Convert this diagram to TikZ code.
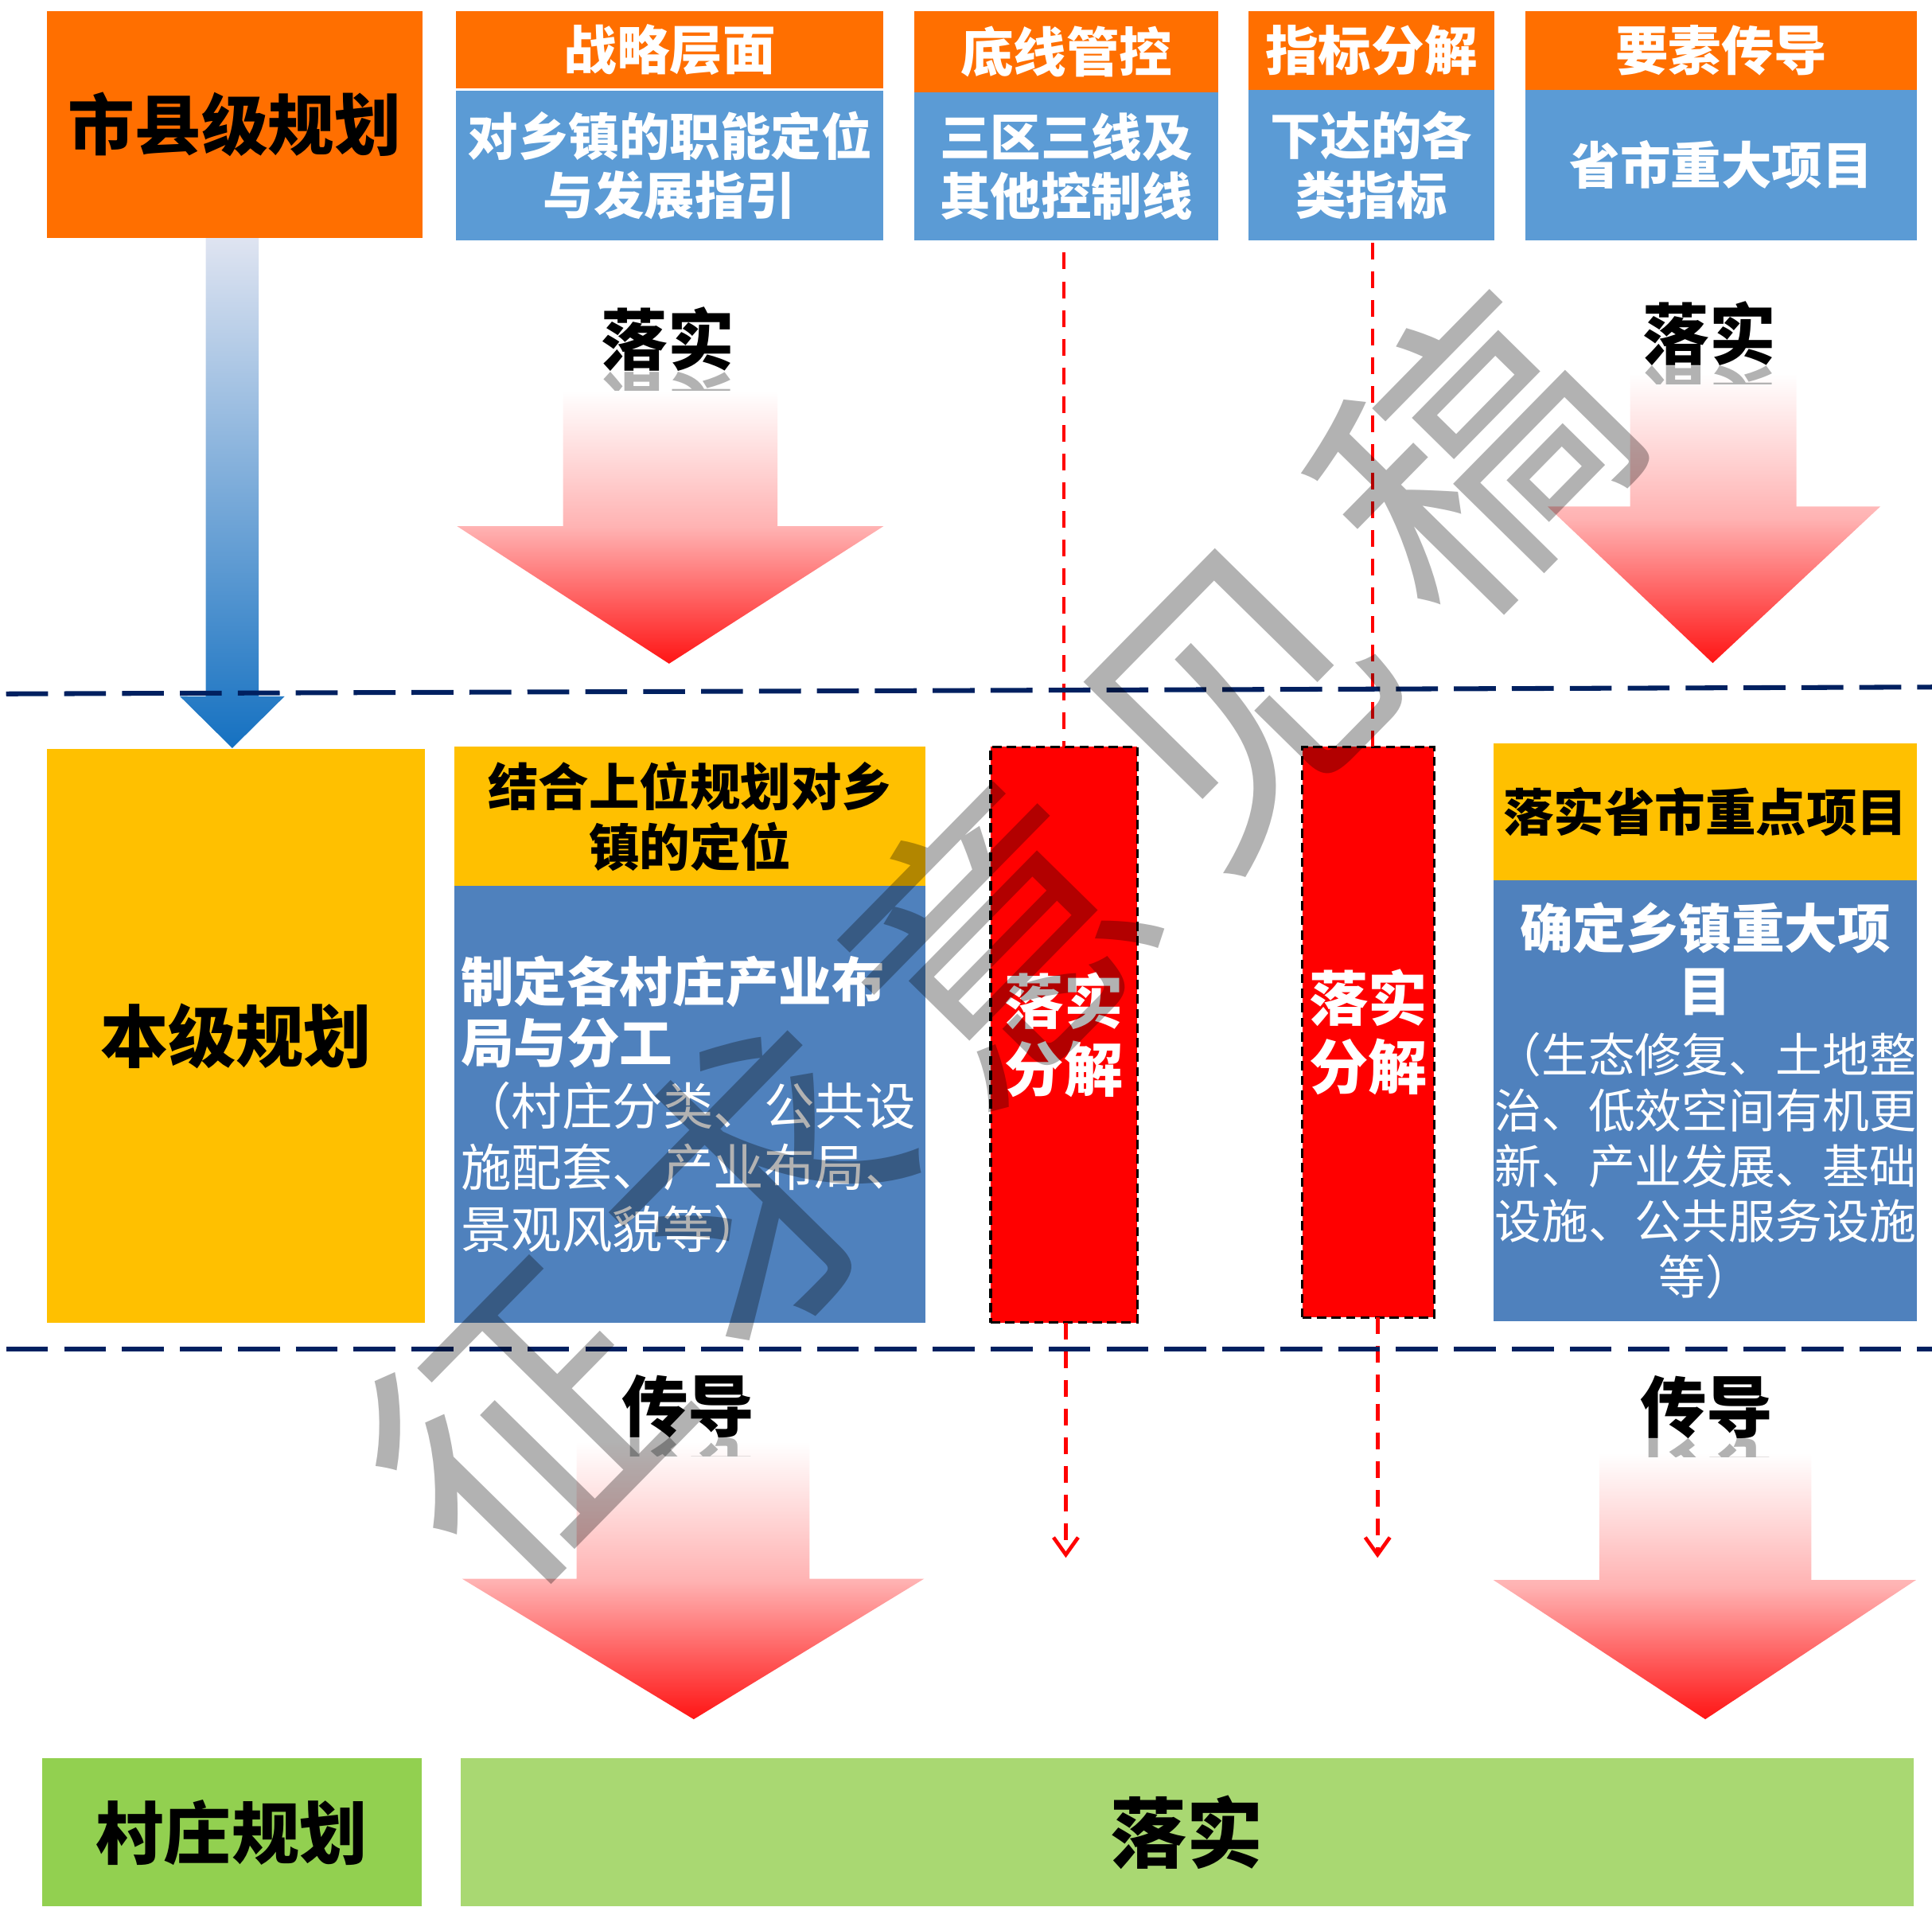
\documentclass[tikz,border=0pt]{standalone}
\usepackage{fontspec}
\usepackage{graphicx}
\setmainfont{Noto Sans CJK SC}
\newfontfamily\heavyfont{Noto Sans CJK SC Black}
\usetikzlibrary{arrows.meta}
\definecolor{orangeA}{RGB}{255,111,0}
\definecolor{blueA}{RGB}{91,155,213}
\definecolor{blueB}{RGB}{79,129,189}
\definecolor{yellowA}{RGB}{255,192,0}
\definecolor{redA}{RGB}{255,0,0}
\definecolor{greenA}{RGB}{146,208,80}
\definecolor{greenB}{RGB}{169,216,114}
\definecolor{navyA}{RGB}{0,32,96}
\definecolor{blueTop}{RGB}{223,228,241}
\definecolor{blueBot}{RGB}{21,113,193}
\newcommand\fsz[2]{\fontsize{#1cm}{#2cm}\selectfont}
\begin{document}
\begin{tikzpicture}[
	cellbox/.style={rectangle, inner sep=0pt, outer sep=0pt, align=center},
	headcell/.style={cellbox, fill=orangeA, text=white, minimum height=0.64cm, font=\fsz{0.43}{0.5}\bfseries},
	upcell/.style={cellbox, fill=blueA, text=white, font=\fsz{0.41}{0.48}\bfseries},
	redcell/.style={cellbox, fill=redA, draw=black, line width=0.022cm, dash pattern=on 0.075cm off 0.043cm, text=white, font=\fsz{0.48}{0.55}\bfseries},
	flowtext/.style={inner sep=0pt, outer sep=0pt, font=\heavyfont\fsz{0.54}{0.6}},
	mirrortext/.style={flowtext, text=black!30},
	redarrow/.style={top color=white, bottom color=redA!92, middle color=redA!30},
	bluearrow/.style={top color=blueTop, bottom color=blueBot},
	reddash/.style={draw=redA, line width=0.03cm, dash pattern=on 0.136cm off 0.097cm},
	sepline/.style={draw=navyA, line width=0.039cm, dash pattern=on 0.34cm off 0.13cm},
	watermark/.style={rotate=45.5, inner sep=0pt, text=black, text opacity=0.3, font=\fsz{2.37}{2.4}},
	>={Straight Barb[length=1.4mm,width=2mm]}
	]
	\useasboundingbox (0,0) rectangle (15.68,-15.467);
	\shade[bluearrow] (1.67,-1.93) -- (2.10,-1.93) -- (2.10,-5.65) -- (2.31,-5.65) -- (1.885,-6.07) -- (1.46,-5.65) -- (1.67,-5.65) -- cycle;
	\shade[redarrow] (4.57,-3.17) -- (6.31,-3.17) -- (6.31,-4.27) -- (7.17,-4.27) -- (5.43,-5.385) -- (3.71,-4.27) -- (4.57,-4.27) -- cycle;
	\shade[redarrow] (13.23,-3.03) -- (14.58,-3.03) -- (14.58,-4.11) -- (15.26,-4.11) -- (13.90,-5.38) -- (12.56,-4.11) -- (13.23,-4.11) -- cycle;
	\shade[redarrow] (4.68,-11.70) -- (6.57,-11.70) -- (6.57,-12.81) -- (7.50,-12.81) -- (5.63,-13.95) -- (3.75,-12.81) -- (4.68,-12.81) -- cycle;
	\shade[redarrow] (12.98,-11.79) -- (14.70,-11.79) -- (14.70,-12.82) -- (15.55,-12.82) -- (13.84,-13.95) -- (12.12,-12.82) -- (12.98,-12.82) -- cycle;
	\node[cellbox, fill=orangeA, minimum width=3.05cm, minimum height=1.84cm, font=\heavyfont\fsz{0.54}{0.6}] (sxj) at (1.905,-1.01) {市县级规划};
	\node[headcell, minimum width=3.47cm, minimum height=0.63cm] (zlhead) at (5.435,-0.405) {战略层面};
	\node[upcell, minimum width=3.47cm, minimum height=1.215cm] (zlbody) at (5.435,-1.3425) {对乡镇的职能定位\\与发展指引};
	\node[headcell, minimum width=2.47cm, minimum height=0.66cm] (dxhead) at (8.655,-0.42) {底线管控};
	\node[upcell, minimum width=2.47cm, minimum height=1.2cm] (dxbody) at (8.655,-1.35) {三区三线及\\其他控制线};
	\node[headcell, minimum width=2.0cm] (zbhead) at (11.13,-0.41) {指标分解};
	\node[upcell, minimum width=2.0cm, minimum height=1.22cm] (zbbody) at (11.13,-1.34) {下达的各\\类指标};
	\node[headcell, minimum width=3.18cm] (yshead) at (13.97,-0.41) {要素传导};
	\node[upcell, minimum width=3.18cm, minimum height=1.22cm] (ysbody) at (13.97,-1.34) {省市重大项目};
	\node[cellbox, fill=yellowA, minimum width=3.07cm, minimum height=4.65cm, font=\heavyfont\fsz{0.55}{0.6}] (bjgh) at (1.915,-8.405) {本级规划};
	\node[cellbox, fill=yellowA, minimum width=3.82cm, minimum height=1.13cm, font=\fsz{0.41}{0.49}\bfseries] (jhdw) at (5.60,-6.625) {结合上位规划对乡\\镇的定位};
	\node[cellbox, fill=blueB, text=white, minimum width=3.82cm, minimum height=3.54cm, text width=3.72cm, align=left, font=\fsz{0.43}{0.50}] (cyfg) at (5.60,-8.96) {\bfseries 制定各村庄产业布\\局与分工\\\fsz{0.41}{0.50}\mdseries （村庄分类、公共设\\施配套、产业布局、\\景观风貌等）};
	\node[redcell, minimum width=1.19cm, minimum height=4.67cm] (lsfj1) at (8.635,-8.395) {落实\\分解};
	\node[redcell, minimum width=1.07cm, minimum height=4.63cm] (lsfj2) at (11.105,-8.375) {落实\\分解};
	\node[cellbox, fill=yellowA, minimum width=3.44cm, minimum height=1.11cm, font=\fsz{0.41}{0.49}\bfseries] (lsxm) at (13.84,-6.585) {落实省市重点项目};
	\node[cellbox, fill=blueB, text=white, minimum width=3.44cm, minimum height=3.58cm, text width=3.44cm, font=\fsz{0.38}{0.45}] (zdxm) at (13.84,-8.93) {\fsz{0.43}{0.45}\bfseries 确定乡镇重大项\\[0.06cm]目\\[0.05cm]\fsz{0.38}{0.45}\mdseries （生态修复、土地整\\治、低效空间有机更\\新、产业发展、基础\\设施、公共服务设施\\等）};
	\node[cellbox, fill=greenA, minimum width=3.08cm, minimum height=1.2cm, font=\heavyfont\fsz{0.55}{0.6}] (czgh) at (1.88,-14.867) {村庄规划};
	\node[cellbox, fill=greenB, minimum width=11.79cm, minimum height=1.2cm, font=\heavyfont\fsz{0.62}{0.7}] (lsdi) at (9.635,-14.867) {落实};
	\node[flowtext] (lsup1) at (5.42,-2.755) {落实};
	\node[flowtext] (lsup2) at (13.875,-2.705) {落实};
	\node[flowtext] (cddn1) at (5.585,-11.41) {传导};
	\node[flowtext] (cddn2) at (13.85,-11.415) {传导};
	\begin{scope}
	\clip ([xshift=-0.7cm]lsup1.south) rectangle ([xshift=0.7cm,yshift=-0.15cm]lsup1.south);
	\node[mirrortext, anchor=north] (lsup1r) at (lsup1.south) {\scalebox{1}[-1]{落实}};
	\end{scope}
	\begin{scope}
	\clip ([xshift=-0.7cm]lsup2.south) rectangle ([xshift=0.7cm,yshift=-0.15cm]lsup2.south);
	\node[mirrortext, anchor=north] (lsup2r) at (lsup2.south) {\scalebox{1}[-1]{落实}};
	\end{scope}
	\begin{scope}
	\clip ([xshift=-0.7cm]cddn1.south) rectangle ([xshift=0.7cm,yshift=-0.15cm]cddn1.south);
	\node[mirrortext, anchor=north] (cddn1r) at (cddn1.south) {\scalebox{1}[-1]{传导}};
	\end{scope}
	\begin{scope}
	\clip ([xshift=-0.7cm]cddn2.south) rectangle ([xshift=0.7cm,yshift=-0.15cm]cddn2.south);
	\node[mirrortext, anchor=north] (cddn2r) at (cddn2.south) {\scalebox{1}[-1]{传导}};
	\end{scope}
	\coordinate (endC) at (8.65,-12.64);
	\coordinate (endD) at (11.18,-12.64);
	\draw[reddash] ([yshift=-0.1cm]lsfj1.north |- dxbody.south) -- (lsfj1.north);
	\draw[reddash] ([xshift=0.035cm,yshift=-0.02cm]lsfj2.north |- zbbody.south) -- ([xshift=0.035cm]lsfj2.north);
	\draw[reddash, ->] (lsfj1.south -| endC) -- (endC);
	\draw[reddash, ->] (lsfj2.south -| endD) -- (endD);
	\coordinate (sepL1) at (0.05,-5.63);
	\coordinate (sepR1) at (15.68,-5.575);
	\coordinate (sepL2) at (0.05,-10.946);
	\coordinate (sepR2) at (15.68,-10.946);
	\draw[sepline] (sepL1) -- (sepR1);
	\draw[sepline] (sepL2) -- (sepR2);
	\node[watermark] (zqyj) at (8.08,-7.62) {征\hspace{0.38cm}求\hspace{0.38cm}意\hspace{0.38cm}见\hspace{0.38cm}稿};
\end{tikzpicture}
\end{document}
